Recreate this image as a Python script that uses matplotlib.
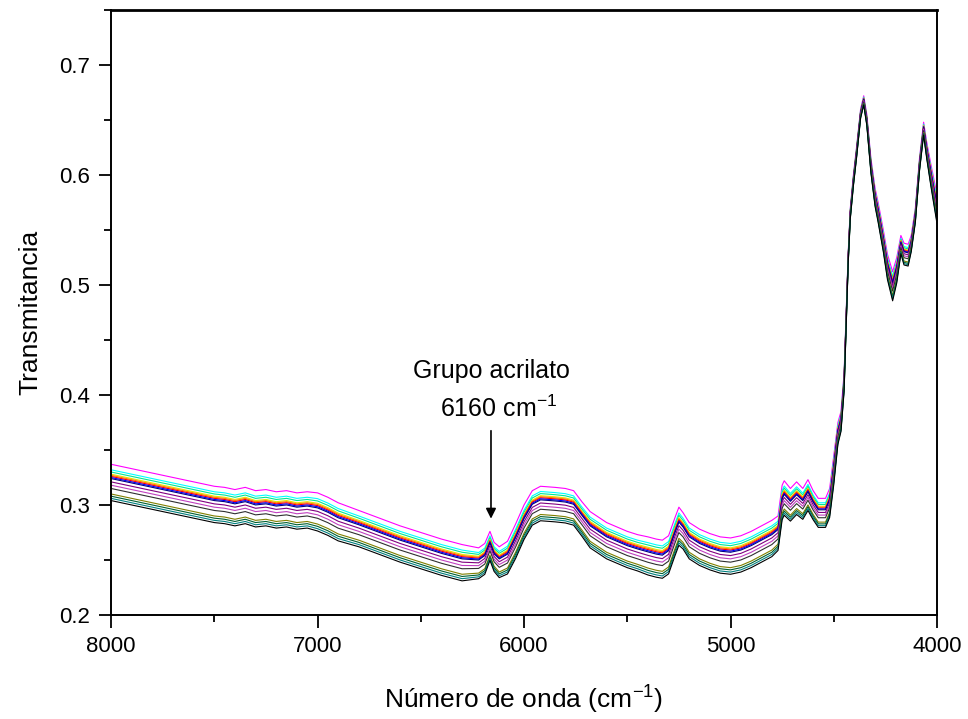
import numpy as np
import matplotlib
matplotlib.use("Agg")
import matplotlib.pyplot as plt
from matplotlib.ticker import MultipleLocator

plt.rcParams['font.family'] = ['Liberation Sans', 'DejaVu Sans']
plt.rcParams['mathtext.fontset'] = 'custom'
plt.rcParams['mathtext.rm'] = 'Liberation Sans'

wn = [8000, 7900, 7800, 7700, 7600, 7500, 7450, 7400, 7350, 7300, 7250, 7200,
      7150, 7100, 7050, 7000, 6950, 6900, 6800, 6700, 6600, 6500, 6400, 6300,
      6220, 6190, 6165, 6145, 6120, 6080, 6040, 6000, 5960, 5920, 5850, 5800,
      5760, 5720, 5680, 5600, 5500, 5450, 5400, 5360, 5330, 5300, 5270, 5250,
      5230, 5200, 5150, 5100, 5050, 5000, 4950, 4900, 4850, 4800, 4770, 4750,
      4740, 4710, 4680, 4650, 4625, 4600, 4575, 4540, 4520, 4500, 4480, 4465,
      4450, 4430, 4420, 4405, 4390, 4370, 4355, 4340, 4320, 4300, 4285, 4260,
      4240, 4215, 4195, 4175, 4160, 4140, 4125, 4105, 4085, 4065, 4050, 4030,
      4000]
top = [0.337, 0.333, 0.329, 0.325, 0.321, 0.317, 0.316, 0.314, 0.316, 0.313, 0.314, 0.312,
       0.313, 0.311, 0.312, 0.311, 0.307, 0.302, 0.295, 0.288, 0.281, 0.275, 0.269, 0.264,
       0.261, 0.265, 0.276, 0.266, 0.262, 0.267, 0.283, 0.300, 0.313, 0.317, 0.316, 0.315,
       0.313, 0.303, 0.294, 0.284, 0.276, 0.273, 0.271, 0.269, 0.268, 0.272, 0.288, 0.298,
       0.293, 0.284, 0.278, 0.274, 0.271, 0.270, 0.272, 0.276, 0.281, 0.286, 0.290, 0.318,
       0.322, 0.315, 0.321, 0.315, 0.323, 0.313, 0.306, 0.306, 0.315, 0.345, 0.375, 0.385,
       0.420, 0.530, 0.570, 0.600, 0.625, 0.660, 0.672, 0.655, 0.615, 0.588, 0.575, 0.550,
       0.528, 0.512, 0.525, 0.545, 0.538, 0.537, 0.545, 0.570, 0.615, 0.648, 0.630, 0.610,
       0.582]
# how much of each sample's offset remains at that wavenumber (spectra converge above 4500)
spread = [1.0, 1.0, 1.0, 1.0, 1.0, 1.0, 1.0, 1.0, 1.0, 1.0, 1.0, 1.0,
          1.0, 1.0, 1.0, 1.05, 1.05, 1.05, 1.0, 1.0, 1.0, 1.0, 1.0, 1.0,
          0.85, 0.85, 0.8, 0.8, 0.85, 0.9, 0.95, 0.95, 0.95, 0.95, 0.95, 0.95,
          0.95, 0.95, 1.0, 1.0, 1.0, 1.0, 1.05, 1.05, 1.05, 1.05, 1.05, 1.05,
          1.0, 1.0, 1.0, 1.0, 1.0, 1.0, 1.0, 1.0, 1.0, 1.0, 0.95, 0.95,
          0.95, 0.9, 0.9, 0.85, 0.85, 0.8, 0.8, 0.8, 0.8, 0.8, 0.6, 0.55,
          0.5, 0.3, 0.3, 0.3, 0.3, 0.25, 0.25, 0.3, 0.4, 0.5, 0.55, 0.6,
          0.7, 0.8, 0.7, 0.5, 0.6, 0.6, 0.45, 0.4, 0.35, 0.35, 0.45, 0.6,
          0.8]

# offset of each sample from the top spectrum at 8000 cm-1
offsets = [0.0, -0.005, -0.007, -0.009, -0.010, -0.011, -0.012, -0.013,
           -0.016, -0.019, -0.022, -0.027, -0.029, -0.031, -0.033]
colors = ['#ff00ff', '#00ffff', '#00e890', '#e6e600', '#ff8000', '#ff0000', '#0000ff', '#000080',
          '#800080', '#c040c0', '#303030', '#808000', '#006030', '#008080', '#000000']

wn = np.array(wn)
top = np.array(top)
spread = np.array(spread)

fig = plt.figure(figsize=(9.68, 7.19), dpi=100)
ax = fig.add_axes([0.1147, 0.1447, 0.8533, 0.8414])

for off, c in zip(offsets, colors):
    ax.plot(wn, top + off * spread, color=c, lw=0.8)

ax.set_xlim(8000, 4000)
ax.set_ylim(0.2, 0.75)
ax.xaxis.set_major_locator(MultipleLocator(1000))
ax.xaxis.set_minor_locator(MultipleLocator(500))
ax.yaxis.set_major_locator(MultipleLocator(0.1))
ax.yaxis.set_minor_locator(MultipleLocator(0.05))
ax.tick_params(which='major', direction='out', length=9, width=1.3, labelsize=16, pad=6)
ax.tick_params(which='minor', direction='out', length=5, width=1.3)
ax.set_yticks([0.2, 0.3, 0.4, 0.5, 0.6, 0.7])
for s in ax.spines.values():
    s.set_linewidth(1.4)
ax.spines['top'].set_linewidth(2)

ax.set_xlabel('Número de onda (cm$^{-1}$)', fontsize=19, labelpad=18)
ax.set_ylabel('Transmitancia', fontsize=19, labelpad=12)

ax.annotate('', xy=(6160, 0.285), xytext=(6160, 0.37),
            arrowprops=dict(arrowstyle='-|>', color='black', lw=1.2, mutation_scale=15))
ax.text(6160, 0.422, 'Grupo acrilato', ha='center', va='center', fontsize=18)
ax.text(6125, 0.387, '6160 cm$^{-1}$', ha='center', va='center', fontsize=18)

fig.savefig('out.png', dpi=100)
